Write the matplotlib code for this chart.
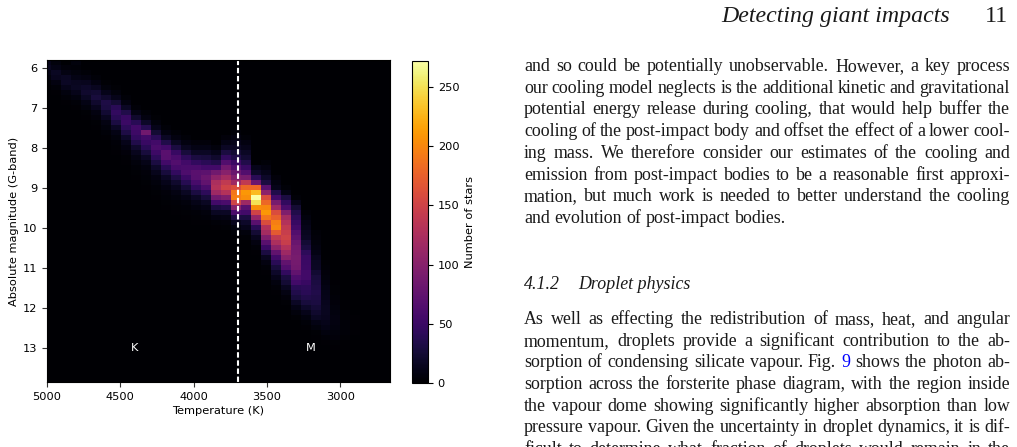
import numpy as np
import matplotlib
matplotlib.use('Agg')
import matplotlib.pyplot as plt

# ---- data: 2D histogram of stars (temperature bins x magnitude bins) ----
# temperature bins run from hot (left) to cool (right), 68 K wide
t_hot_edge = 5038
t_bin = 68
n_tbins = 35
# magnitude bins 0.125 mag from 5.8 downward
m_top_edge = 5.8
m_bin = 0.125
n_mbins = 66

# first non-empty magnitude row of each temperature column
start_row = [0, 0, 1, 0, 2, 3, 4, 5, 7, 9, 10, 11, 13, 14, 15, 16, 16, 17,
             15, 14, 15, 21, 20, 23, 25, 27, 30, 34, 40, 44, 48, 50, 0, 0, 0]
# counts of stars per column, starting at start_row
col_counts = [
    [12, 15, 10, 6, 3],
    [6, 10, 16, 14, 8, 4, 2],
    [5, 9, 16, 18, 12, 7, 4, 2],
    [6, 4, 6, 10, 15, 16, 12, 7, 4, 2],
    [4, 8, 14, 20, 22, 16, 10, 6, 3, 2],
    [4, 8, 15, 24, 28, 22, 14, 8, 5, 3, 2],
    [3, 6, 12, 22, 32, 30, 24, 15, 9, 6, 4, 2],
    [3, 6, 12, 25, 40, 45, 40, 30, 18, 10, 6, 4, 3, 2],
    [4, 8, 18, 35, 48, 50, 42, 32, 20, 12, 8, 5, 3, 2],
    [4, 10, 22, 40, 55, 52, 45, 35, 22, 14, 9, 6, 4, 3, 2],
    [4, 8, 20, 38, 85, 55, 48, 40, 28, 18, 11, 7, 5, 4, 3, 2],
    [3, 6, 12, 25, 40, 55, 60, 52, 42, 30, 20, 13, 8, 6, 4, 3, 2],
    [4, 8, 18, 35, 55, 70, 68, 55, 40, 28, 18, 12, 8, 5, 4, 3, 2],
    [4, 8, 16, 30, 48, 60, 65, 58, 45, 32, 22, 14, 9, 6, 4, 3, 2],
    [4, 8, 15, 28, 42, 55, 60, 62, 50, 38, 26, 16, 10, 6, 4, 3, 2],
    [5, 10, 18, 30, 45, 60, 70, 68, 58, 45, 30, 18, 11, 7, 4, 3, 2],
    [5, 10, 18, 28, 40, 55, 72, 80, 75, 60, 42, 28, 16, 10, 6, 4, 2],
    [6, 12, 22, 35, 55, 85, 105, 125, 130, 115, 85, 55, 30, 16, 8, 4, 2],
    [5, 10, 18, 30, 45, 65, 85, 100, 120, 140, 150, 130, 95, 60, 35, 18, 9, 5, 3],
    [4, 8, 12, 18, 25, 35, 50, 65, 80, 95, 115, 160, 190, 195, 150, 100, 60, 30, 14, 7, 4, 2],
    [4, 8, 12, 18, 24, 35, 48, 65, 90, 140, 180, 210, 205, 115, 70, 55, 30, 20, 12, 6, 3],
    [12, 20, 40, 80, 180, 230, 272, 250, 205, 150, 110, 70, 40, 25, 14, 8, 4, 2],
    [4, 8, 12, 20, 30, 70, 105, 160, 180, 200, 210, 190, 160, 130, 120, 95, 70, 50, 30, 15, 8, 4, 2],
    [5, 8, 12, 35, 55, 90, 115, 160, 175, 195, 200, 170, 140, 125, 105, 75, 55, 40, 28, 20, 12, 7, 4, 2],
    [4, 10, 30, 45, 60, 95, 120, 130, 140, 145, 150, 145, 130, 115, 100, 75, 65, 45, 30, 25, 15, 9, 5, 3],
    [4, 12, 25, 35, 42, 48, 55, 65, 72, 80, 85, 88, 90, 88, 85, 75, 62, 55, 40, 35, 28, 18, 10, 6, 3],
    [4, 7, 10, 12, 15, 18, 25, 30, 42, 48, 50, 52, 55, 55, 48, 42, 40, 35, 28, 20, 12, 7, 4, 2],
    [4, 5, 6, 8, 10, 14, 16, 18, 24, 28, 30, 32, 34, 32, 30, 26, 22, 16, 10, 6, 3, 2],
    [3, 4, 5, 6, 8, 10, 11, 12, 14, 15, 15, 14, 12, 10, 7, 4, 2],
    [2, 3, 3, 4, 5, 6, 7, 8, 8, 7, 6, 5, 3, 2],
    [2, 2, 3, 3, 4, 4, 4, 3, 2, 2],
    [1, 2, 2, 2, 2, 1],
    [], [], [],
]

t_edges = t_hot_edge - t_bin * np.arange(n_tbins + 1)
m_edges = m_top_edge + m_bin * np.arange(n_mbins + 1)
H = np.zeros((n_mbins, n_tbins))
for c, (r0, vals) in enumerate(zip(start_row, col_counts)):
    for k, v in enumerate(vals):
        H[r0 + k, c] = v

yticks = [6, 7, 8, 9, 10, 11, 12, 13]
xticks = [5000, 4500, 4000, 3500, 3000]
cbar_ticks = [0, 50, 100, 150, 200, 250]
kmax = 272
boundary_T = 3700

# ---- figure ----
W, Hpx = 1017, 447
fig = plt.figure(figsize=(W / 100, Hpx / 100), dpi=100)

def px_box(x0, y0, x1, y1):
    return [x0 / W, 1 - y1 / Hpx, (x1 - x0) / W, (y1 - y0) / Hpx]

ax = fig.add_axes(px_box(47, 60, 390, 382))
mesh = ax.pcolormesh(t_edges, m_edges, H, cmap='inferno', vmin=0, vmax=kmax)
ax.set_xlim(5000, 2660)
ax.set_ylim(13.85, 5.8)
ax.set_xticks(xticks)
ax.set_yticks(yticks)
ax.tick_params(labelsize=8.2, color='#333333')
ax.set_xlabel('Temperature (K)', fontsize=8.2, labelpad=3)
ax.set_ylabel('Absolute magnitude (G-band)', fontsize=8.2, labelpad=3)
ax.axvline(boundary_T, color='white', lw=1.5, dashes=(2.6, 1.3))
ax.text(4400, 13.0, 'K', color='white', fontsize=8.2, ha='center', va='center')
ax.text(3200, 13.0, 'M', color='white', fontsize=8.2, ha='center', va='center')

cax = fig.add_axes(px_box(412, 61, 428, 383))
cb = fig.colorbar(mesh, cax=cax, ticks=cbar_ticks)
cb.ax.tick_params(labelsize=8.2)
cb.set_label('Number of stars', fontsize=8.2, labelpad=4)

# ---- page text on the right ----
renderer = fig.canvas.get_renderer()
serif = 'Liberation Serif'
ink = '#1a1a1a'

def put_line(words, y_base, x0, x1, size, justify=True, style='normal', colors=None):
    objs = []
    for i, w in enumerate(words):
        col = colors[i] if colors else ink
        objs.append(fig.text(0, 0, w, fontsize=size, family=serif, style=style,
                             color=col, va='baseline', ha='left'))
    ws = [o.get_window_extent(renderer).width for o in objs]
    gap = size * 100 / 72 * 0.25
    if justify and len(words) > 1:
        gap = (x1 - x0 - sum(ws)) / (len(words) - 1)
    x = x0
    for o, w in zip(objs, ws):
        o.set_position((x / W, 1 - y_base / Hpx))
        x += w + gap

fs = 12.9
x_left, x_right = 524, 1010
lead = 21.7

fig.text(950 / W, 1 - 22 / Hpx, 'Detecting giant impacts', fontsize=17.2, family=serif,
         style='italic', ha='right', va='baseline', color=ink)
fig.text(1008 / W, 1 - 22 / Hpx, '11', fontsize=17.2, family=serif,
         ha='right', va='baseline', color=ink)

para1 = [
    "and so could be potentially unobservable. However, a key process",
    "our cooling model neglects is the additional kinetic and gravitational",
    "potential energy release during cooling, that would help buffer the",
    "cooling of the post-impact body and offset the effect of a lower cool-",
    "ing mass. We therefore consider our estimates of the cooling and",
    "emission from post-impact bodies to be a reasonable first approxi-",
    "mation, but much work is needed to better understand the cooling",
    "and evolution of post-impact bodies.",
]
for i, line in enumerate(para1):
    put_line(line.split(), 71 + i * lead, x_left, x_right, fs, justify=(i < len(para1) - 1))

fig.text(x_left / W, 1 - 289 / Hpx, '4.1.2', fontsize=fs, family=serif, style='italic',
         va='baseline', color=ink)
fig.text(578 / W, 1 - 289 / Hpx, 'Droplet physics', fontsize=fs, family=serif, style='italic',
         va='baseline', color=ink)

para2 = [
    "As well as effecting the redistribution of mass, heat, and angular",
    "momentum, droplets provide a significant contribution to the ab-",
    "sorption of condensing silicate vapour. Fig. 9 shows the photon ab-",
    "sorption across the forsterite phase diagram, with the region inside",
    "the vapour dome showing significantly higher absorption than low",
    "pressure vapour. Given the uncertainty in droplet dynamics, it is dif-",
    "ficult to determine what fraction of droplets would remain in the",
]
for i, line in enumerate(para2):
    words = line.split()
    colors = None
    if 'Fig.' in words:
        colors = ['#0000ff' if (w == '9' and words[j - 1] == 'Fig.') else ink
                  for j, w in enumerate(words)]
    put_line(words, 324 + i * lead, x_left, x_right, fs, colors=colors)

fig.savefig('out.png', dpi=100)
